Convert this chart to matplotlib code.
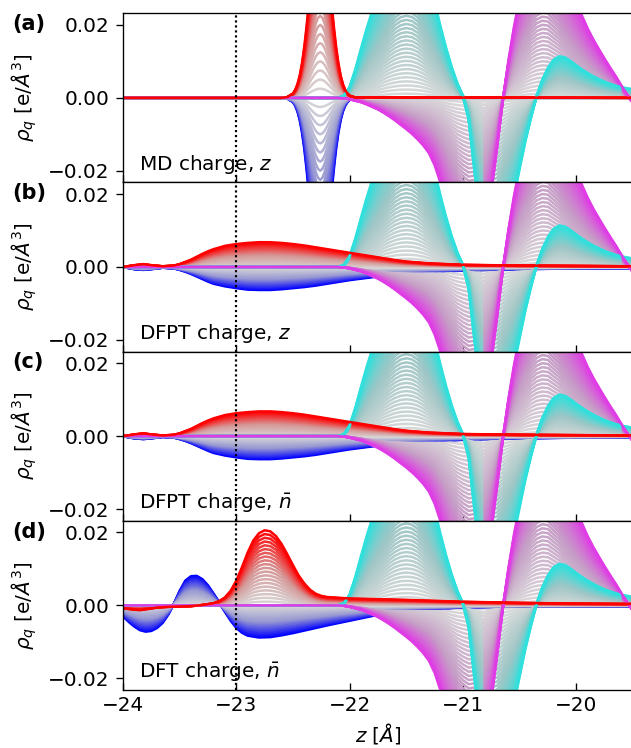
import numpy as np
import matplotlib.pyplot as plt
from matplotlib.colors import LinearSegmentedColormap

# ramp of the frames (0 = first frame, 1 = last frame)
frame_w = [0.0, 0.025, 0.05, 0.075, 0.1, 0.125, 0.15, 0.175, 0.2, 0.225,
           0.25, 0.275, 0.3, 0.325, 0.35, 0.375, 0.4, 0.425, 0.45, 0.475,
           0.5, 0.525, 0.55, 0.575, 0.6, 0.625, 0.65, 0.675, 0.7, 0.725,
           0.75, 0.775, 0.8, 0.825, 0.85, 0.875, 0.9, 0.925, 0.95, 0.975, 1.0]

# ion charge profiles of the last frame (same in every panel)
cyan_z = [-24.0, -22.1, -22.05, -22.0, -21.95, -21.9, -21.85, -21.8, -21.75, -21.7, -21.65,
          -21.6, -21.55, -21.5, -21.45, -21.4, -21.35, -21.3, -21.25, -21.2, -21.15,
          -21.1, -21.05, -21.0, -20.95, -20.9, -20.85, -20.8, -20.75, -20.7, -20.65,
          -20.6, -20.55, -20.5, -20.45, -20.4, -20.35, -20.3, -20.25, -20.2, -20.15,
          -20.1, -20.05, -20.0, -19.95, -19.9, -19.85, -19.8, -19.75, -19.7, -19.65,
          -19.6, -19.55, -19.5]
cyan_rho = [0.0, 0.0, 0.0006, 0.0030, 0.0078, 0.0135, 0.0190, 0.0240, 0.0290, 0.0340, 0.0385,
            0.0420, 0.0442, 0.0450, 0.0443, 0.0420, 0.0380, 0.0325, 0.0262, 0.0198, 0.0138,
            0.0085, 0.0040, 0.0005, -0.0060, -0.0200, -0.0330, -0.0415, -0.0450, -0.0440, -0.0400,
            -0.0340, -0.0270, -0.0195, -0.0120, -0.0055, 0.0005, 0.0050, 0.0083, 0.0105, 0.0114,
            0.0111, 0.0101, 0.0089, 0.0078, 0.0068, 0.0059, 0.0051, 0.0044, 0.0038, 0.0033,
            0.0029, 0.0026, 0.0023]

mag_z = cyan_z
mag_rho = [0.0, 0.0, -0.0001, -0.0004, -0.0008, -0.0012, -0.0018, -0.0025, -0.0032, -0.0041, -0.0051,
           -0.0062, -0.0074, -0.0086, -0.0099, -0.0114, -0.0131, -0.0152, -0.0185, -0.0232, -0.0290,
           -0.0350, -0.0400, -0.0432, -0.0455, -0.0450, -0.0420, -0.0360, -0.0260, -0.0140, -0.0010,
           0.0100, 0.0195, 0.0275, 0.0340, 0.0395, 0.0430, 0.0445, 0.0440, 0.0410, 0.0380,
           0.0340, 0.0300, 0.0260, 0.0225, 0.0190, 0.0160, 0.0133, 0.0107, 0.0082, 0.0058,
           0.0032, 0.0008, -0.0015]

# interface charge, last frame (positive) and first frame (negative)
md_z = [-24.0, -22.6, -22.55, -22.5, -22.48, -22.46, -22.44, -22.42, -22.4, -22.38,
        -22.36, -22.34, -22.32, -22.3, -22.28, -22.26, -22.24, -22.22, -22.2, -22.18,
        -22.16, -22.14, -22.12, -22.1, -22.08, -22.06, -22.04, -22.02, -22.0, -21.95, -19.5]
md_pos = [0.0, 0.0, 0.0002, 0.0012, 0.0022, 0.0038, 0.0062, 0.0096, 0.0141, 0.0197,
          0.0262, 0.0331, 0.0396, 0.0451, 0.0487, 0.0500, 0.0487, 0.0451, 0.0396, 0.0331,
          0.0262, 0.0197, 0.0141, 0.0096, 0.0062, 0.0038, 0.0022, 0.0012, 0.0006, 0.0001, 0.0]
md_neg = [-v for v in md_pos]

dfpt_z = [-24.0, -23.9, -23.82, -23.75, -23.65, -23.55, -23.5, -23.45, -23.4, -23.35,
          -23.3, -23.25, -23.2, -23.1, -23.0, -22.9, -22.8, -22.7, -22.6, -22.5,
          -22.4, -22.3, -22.2, -22.1, -22.0, -21.9, -21.8, -21.7, -21.6, -21.5,
          -21.3, -21.0, -20.5, -20.0, -19.5]
dfpt_pos = [0.0, 0.0005, 0.0008, 0.0005, 0.0002, 0.0004, 0.0008, 0.0014, 0.0020, 0.0028,
            0.0036, 0.0043, 0.0049, 0.0058, 0.0063, 0.0066, 0.0068, 0.0068, 0.0066, 0.0063,
            0.0059, 0.0054, 0.0049, 0.0044, 0.0039, 0.0034, 0.0029, 0.0024, 0.0019, 0.0015,
            0.0010, 0.0006, 0.0004, 0.0003, 0.0002]
dfpt_neg = [0.0, -0.0006, -0.0008, -0.0006, -0.0002, -0.0004, -0.0008, -0.0013, -0.0019, -0.0026,
            -0.0033, -0.0040, -0.0046, -0.0053, -0.0058, -0.0062, -0.0063, -0.0063, -0.0061, -0.0058,
            -0.0055, -0.0051, -0.0046, -0.0041, -0.0036, -0.0032, -0.0028, -0.0024, -0.0021, -0.0018,
            -0.0014, -0.0010, -0.0006, -0.0004, -0.0003]

dft_pos_z = [-24.0, -23.9, -23.85, -23.78, -23.7, -23.6, -23.5, -23.4, -23.3, -23.2,
             -23.15, -23.1, -23.05, -23.0, -22.95, -22.9, -22.85, -22.8, -22.75, -22.7,
             -22.65, -22.6, -22.55, -22.5, -22.45, -22.4, -22.35, -22.3, -22.25, -22.2,
             -22.1, -22.0, -21.5, -21.0, -20.5, -20.0, -19.5]
dft_pos = [-0.0008, -0.0012, -0.0013, -0.0010, -0.0006, -0.0004, -0.0003, -0.0002, 0.0001, 0.0006,
           0.0012, 0.0022, 0.0040, 0.0068, 0.0105, 0.0145, 0.0178, 0.0198, 0.0206, 0.0203,
           0.0190, 0.0168, 0.0140, 0.0110, 0.0082, 0.0060, 0.0043, 0.0032, 0.0026, 0.0023,
           0.0021, 0.0019, 0.0015, 0.0010, 0.0007, 0.0005, 0.0004]
dft_neg_z = [-24.0, -23.95, -23.9, -23.85, -23.8, -23.75, -23.7, -23.65, -23.6, -23.55,
             -23.5, -23.45, -23.4, -23.35, -23.3, -23.25, -23.2, -23.15, -23.1, -23.05,
             -23.0, -22.95, -22.9, -22.8, -22.7, -22.6, -22.5, -22.4, -22.3, -22.2,
             -22.0, -21.8, -21.6, -21.4, -21.0, -20.5, -19.5]
dft_neg = [-0.0030, -0.0045, -0.0058, -0.0068, -0.0072, -0.0070, -0.0062, -0.0048, -0.0025, 0.0005,
           0.0040, 0.0068, 0.0080, 0.0081, 0.0072, 0.0055, 0.0032, 0.0008, -0.0018, -0.0042,
           -0.0062, -0.0075, -0.0083, -0.0088, -0.0087, -0.0082, -0.0076, -0.0069, -0.0062, -0.0055,
           -0.0042, -0.0029, -0.0018, -0.0012, -0.0006, -0.0003, -0.0002]

panel_tags = ['(a)', '(b)', '(c)', '(d)']
panel_notes = ['MD charge, $z$', 'DFPT charge, $z$', r'DFPT charge, $\bar{n}$', r'DFT charge, $\bar{n}$']
panel_pos = [(md_z, md_pos), (dfpt_z, dfpt_pos), (dfpt_z, dfpt_pos), (dft_pos_z, dft_pos)]
panel_neg = [(md_z, md_neg), (dfpt_z, dfpt_neg), (dfpt_z, dfpt_neg), (dft_neg_z, dft_neg)]

# colour ramps
cm_iface = LinearSegmentedColormap.from_list('iface', [(0, '#0000ff'), (0.25, '#9898d2'), (0.5, '#d8d8d8'),
                                                        (0.75, '#d69898'), (1, '#ff0000')])
cm_cyan = LinearSegmentedColormap.from_list('cy', [(0, '#dadada'), (0.5, '#9ec6c6'), (1, '#30e0dc')])
cm_mag = LinearSegmentedColormap.from_list('mg', [(0, '#dadada'), (0.5, '#c69ec6'), (1, '#e03ce6')])

plt.rcParams['font.size'] = 12
fig = plt.figure(figsize=(631 / 120, 748 / 120), dpi=120)

left, width = 123 / 631, 510 / 631
bottom0, height = 58 / 748, 169.2 / 748

lw = 1.5
for i in range(4):
    ax = fig.add_axes([left, bottom0 + (3 - i) * height, width, height])
    zp, rp = panel_pos[i]
    zn, rn = panel_neg[i]
    for w in frame_w:
        s = 2 * w - 1
        ax.plot(cyan_z, np.array(cyan_rho) * w, color=cm_cyan(w), lw=lw)
        ax.plot(mag_z, np.array(mag_rho) * w, color=cm_mag(w), lw=lw)
        if s >= 0:
            ax.plot(zp, np.array(rp) * s, color=cm_iface(w), lw=lw)
        else:
            ax.plot(zn, np.array(rn) * (-s), color=cm_iface(w), lw=lw)

    ax.axvline(-23, color='black', ls=(0, (1, 1.3)), lw=1.3, zorder=10)
    ax.set_xlim(-24, -19.5)
    ax.set_ylim(-0.0232, 0.0232)
    ax.set_yticks([-0.02, 0.0, 0.02])
    ax.set_xticks([-24, -23, -22, -21, -20])
    ax.tick_params(axis='x', direction='in', length=4)
    ax.tick_params(axis='y', length=4.5)
    if i < 3:
        ax.set_xticklabels([])
    else:
        ax.set_xlabel(r'$z$ [$\AA$]')
    ax.set_ylabel(r'$\rho_q$ [e/$\AA^3$]')
    ax.yaxis.set_label_coords(-0.165, 0.5)
    ax.text(0.031, 0.075, panel_notes[i], transform=ax.transAxes, va='baseline')
    ax.text(-0.218, 0.995, panel_tags[i], transform=ax.transAxes, va='top',
            fontweight='bold', fontsize=12.5)

fig.savefig('out.png', dpi=120)
